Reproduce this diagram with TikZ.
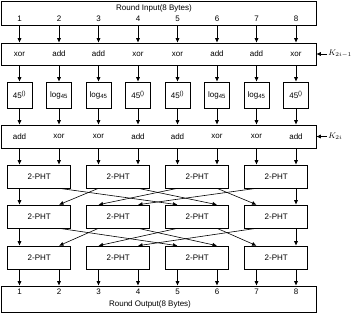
\documentclass[tikz,border=0pt]{standalone}
\usepackage{fontspec}
\setmainfont{Liberation Sans}
\usetikzlibrary{arrows.meta}
\newcommand{\expbox}{45\textsuperscript{()}}
\newcommand{\logbox}{log\textsubscript{45}}
\begin{document}
\begin{tikzpicture}[x=1pt, y=-1pt, font=\footnotesize, semithick,
    >={Latex[length=4.5pt,width=4pt]},
    wide/.style={draw, inner sep=0pt, minimum width=315pt, minimum height=#1},
    sbox/.style={draw, inner sep=0pt, minimum width=25pt, minimum height=26pt},
    pht/.style={draw, inner sep=0pt, minimum width=63pt, minimum height=23pt}]
    \useasboundingbox (0,0) rectangle (351,319);
    % Columns
    \foreach \i [evaluate=\i as \x using 19.5+39.5*(\i-1)] in {1,...,8}
        \coordinate (c\i) at (\x,0);
    % Input and output
    \node[wide=24pt] (inp) at (158.5,13) {};
    \node (inptxt) at (154,8) {Round Input(8 Bytes)};
    \node[wide=26pt] (out) at (158.5,299) {};
    \node (outtxt) at (150,304) {Round Output(8 Bytes)};
    % Key mixing rows
    \node[wide=22pt] (mixa) at (158.5,54) {};
    \node[wide=23pt] (mixb) at (158.5,136.5) {};
    \node[anchor=west, inner sep=1pt] (ka) at (327,54) {$K_{2i-1}$};
    \node[anchor=west, inner sep=1pt] (kb) at (327,136.5) {$K_{2i}$};
    \draw[->] (ka.west) -- (mixa.east);
    \draw[->] (kb.west) -- (mixb.east);
    % Byte columns
    \foreach \i/\opa/\opb/\fn [evaluate=\i as \x using 19.5+39.5*(\i-1)] in
        {1/xor/add/\expbox, 2/add/xor/\logbox, 3/add/xor/\logbox, 4/xor/add/\expbox,
         5/xor/add/\expbox, 6/add/xor/\logbox, 7/add/xor/\logbox, 8/xor/add/\expbox} {
        \node (inp\i) at (\x,19) {\i};
        \node (out\i) at (\x,292) {\i};
        \node (opa\i) at (\x,54) {\opa};
        \node (opb\i) at (\x,136.5) {\opb};
        \node[sbox] (s\i) at (\x,95) {\fn};
        \draw[->] (inp.south -| c\i) -- (mixa.north -| c\i);
        \draw[->] (mixa.south -| c\i) -- (s\i.north);
        \draw[->] (s\i.south) -- (mixb.north -| c\i);
    }
    % 2-PHT layers
    \foreach \k [evaluate=\k as \x using 39.25+79*(\k-1),
                 evaluate=\k as \l using int(2*\k-1),
                 evaluate=\k as \r using int(2*\k)] in {1,...,4} {
        \node[pht] (pa\k) at (\x,176.5) {2-PHT};
        \node[pht] (pb\k) at (\x,216.5) {2-PHT};
        \node[pht] (pc\k) at (\x,257.5) {2-PHT};
        \draw[->] (mixb.south -| c\l) -- (pa\k.north -| c\l);
        \draw[->] (mixb.south -| c\r) -- (pa\k.north -| c\r);
        \draw[->] (pc\k.south -| c\l) -- (out.north -| c\l);
        \draw[->] (pc\k.south -| c\r) -- (out.north -| c\r);
    }
    % Shuffle between layers
    \foreach \j/\a/\m/\b in {1/1/1/1, 3/2/2/1, 5/3/3/2, 7/4/4/2,
                             2/1/5/3, 4/2/6/3, 6/3/7/4, 8/4/8/4} {
        \draw[->] (pa\a.south -| c\j) -- (pb\b.north -| c\m);
        \draw[->] (pb\a.south -| c\j) -- (pc\b.north -| c\m);
    }
\end{tikzpicture}
\end{document}
